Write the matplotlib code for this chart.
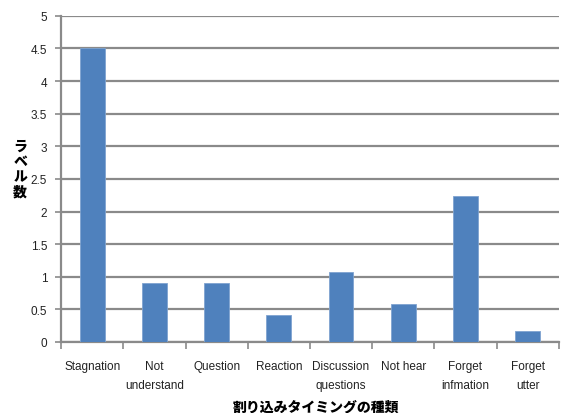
import numpy as np
import matplotlib
matplotlib.use("Agg")
import matplotlib.pyplot as plt

plt.rcParams['font.family'] = ['Noto Sans CJK JP', 'DejaVu Sans']

categories = ["Stagnation", "Not\nunderstand", "Question", "Reaction",
              "Discussion\nquestions", "Not hear", "Forget\ninfmation", "Forget\nutter"]
counts = [4.5, 0.91, 0.91, 0.41, 1.07, 0.58, 2.24, 0.17]
yticks = [0, 0.5, 1, 1.5, 2, 2.5, 3, 3.5, 4, 4.5, 5]
ytick_labels = ["0", "0.5", "1", "1.5", "2", "2.5", "3", "3.5", "4", "4.5", "5"]

fig = plt.figure(figsize=(5.61, 4.14), dpi=100)
ax = fig.add_axes([0.109, 0.1715, 0.887, 0.788])

x = np.arange(len(categories))
ax.bar(x, counts, width=0.4, color="#4F81BD", edgecolor="#7FA3D0", linewidth=0.6, zorder=3)

ax.set_xlim(-0.5, len(categories) - 0.5)
ax.set_ylim(0, 5)
ax.set_yticks(yticks)
ax.set_yticklabels(ytick_labels, fontsize=8.5, color="#222222", family=["Liberation Sans"])
ax.yaxis.grid(True, color="#8a8a8a", linewidth=1.6, zorder=0)

# category labels centred, ticks at the boundaries
ax.set_xticks(x)
ax.set_xticklabels(categories, fontsize=8.5, color="#222222", linespacing=1.75,
                   family=["Liberation Sans"])
ax.tick_params(axis="x", length=0, pad=13)
ax.set_xticks(np.arange(len(categories) + 1) - 0.5, minor=True)
ax.tick_params(axis="x", which="minor", length=5, width=1.2, color="#8a8a8a")
ax.tick_params(axis="y", length=4, width=1.2, color="#8a8a8a", pad=6)

for side in ["top", "right"]:
    ax.spines[side].set_visible(False)
ax.spines["left"].set_color("#8a8a8a")
ax.spines["left"].set_linewidth(1.6)
ax.spines["bottom"].set_color("#8a8a8a")
ax.spines["bottom"].set_linewidth(1.6)

fig.text(0.036, 0.59, "ラ\nベ\nル\n数", fontsize=10, fontweight="black",
         ha="center", va="center", linespacing=1.1)
fig.text(0.563, 0.015, "割り込みタイミングの種類", fontsize=10, fontweight="black",
         ha="center", va="center")

fig.savefig("out.png", dpi=100)
